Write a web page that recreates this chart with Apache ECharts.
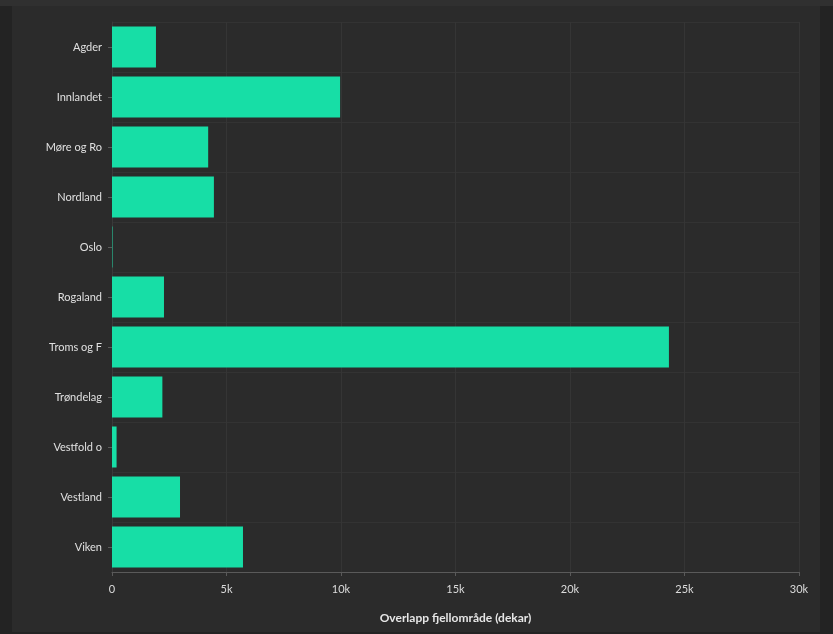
<!DOCTYPE html>
<html>
<head>
<meta charset="utf-8">
<script src="https://cdn.jsdelivr.net/npm/echarts@6/dist/echarts.min.js"></script>
<style>
  html, body { margin: 0; padding: 0; width: 833px; height: 634px; background: #232323; overflow: hidden; }
  #frame { position: absolute; left: 12px; top: 6px; width: 808px; height: 626px; background: #2b2b2b; }
  #topbar { position: absolute; left: 0; top: 0; width: 833px; height: 6px; background: #303030; }
  #main { position: absolute; left: 0; top: 0; width: 833px; height: 634px; }
</style>
</head>
<body>
<div id="topbar"></div>
<div id="frame"></div>
<div id="main"></div>
<script>
const categories = ['Agder', 'Innlandet', 'Møre og Ro', 'Nordland', 'Oslo', 'Rogaland', 'Troms og F', 'Trøndelag', 'Vestfold o', 'Vestland', 'Viken'];
const values = [1920, 9960, 4200, 4450, 20, 2270, 24320, 2200, 200, 2970, 5720];
const xTickLabels = ['0', '5k', '10k', '15k', '20k', '25k', '30k'];
const axisTitle = 'Overlapp fjellområde (dekar)';

const chart = echarts.init(document.getElementById('main'), null, { renderer: 'canvas' });
chart.setOption({
  backgroundColor: 'transparent',
  animation: false,
  grid: { left: 112, right: 34, top: 22, bottom: 62, containLabel: false },
  xAxis: {
    type: 'value',
    min: 0, max: 30000, interval: 5000,
    name: axisTitle,
    nameLocation: 'middle',
    nameGap: 40,
    nameTextStyle: { color: '#e6e6e6', fontSize: 12, fontWeight: 'bold', fontFamily: 'Lato, sans-serif' },
    axisLine: { show: true, lineStyle: { color: '#5a5a5a', width: 1 } },
    axisTick: { show: true, length: 4, lineStyle: { color: '#5a5a5a' } },
    axisLabel: {
      color: '#dcdcdc', fontSize: 11, fontFamily: 'Lato, sans-serif', margin: 12,
      formatter: function (v) { return xTickLabels[Math.round(v / 5000)]; }
    },
    splitLine: { show: true, lineStyle: { color: '#353535', width: 1 } }
  },
  yAxis: {
    type: 'category',
    inverse: true,
    data: categories,
    axisLine: { show: true, lineStyle: { color: '#3a3a3a' } },
    axisTick: { show: true, alignWithLabel: true, length: 4, lineStyle: { color: '#5a5a5a' } },
    axisLabel: { color: '#e0e0e0', fontSize: 11, fontFamily: 'Lato, sans-serif', margin: 10 },
    splitLine: { show: true, lineStyle: { color: '#333333', width: 1 } }
  },
  series: [{
    type: 'bar',
    data: values,
    barCategoryGap: '18%',
    itemStyle: { color: '#17dea6' }
  }]
});
</script>
</body>
</html>
